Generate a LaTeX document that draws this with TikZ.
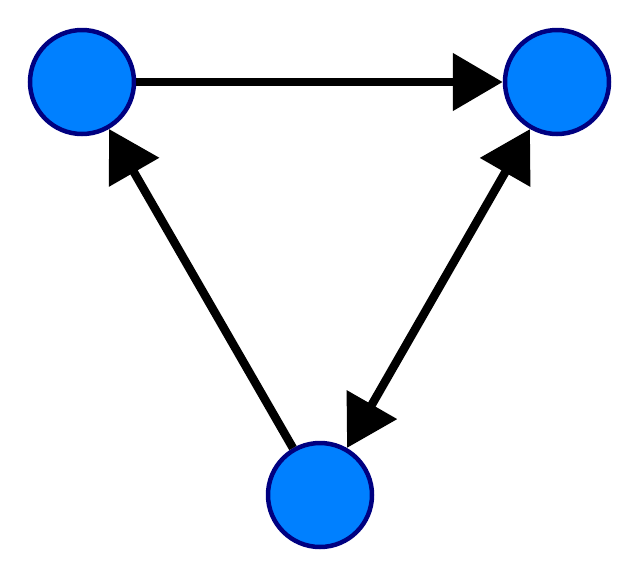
\documentclass[tikz,border=0pt]{standalone}
\usepackage{xcolor}
\usetikzlibrary{arrows.meta,positioning}
\definecolor{nodeblue}{HTML}{0080FF}
\definecolor{nodeedge}{HTML}{000080}
\tikzset{>={Triangle[length=50pt,width=56pt]}}

\begin{document}
\begin{tikzpicture}[
        x=1pt,
        y=-1pt,
        vertex/.style={
            circle,
            draw=nodeedge,
            fill=nodeblue,
            line width=4.5pt,
            minimum size=104pt,
            inner sep=0pt,
          },
        edge/.style={
            line width=8.5pt,
            black,
          },
      ]
      \useasboundingbox (0,0) rectangle (640,579);
      \node [
        vertex
      ] (left) at (82,82) {};
      \node [
        vertex
      ] (right) at (557,82) {};
      \node [
        vertex
      ] (bottom) at (320,495) {};

      \draw[edge,->] (left) -- (right);
      \draw[edge,->] (bottom) -- (left);
      \draw[edge,<->] (bottom) -- (right);
    \end{tikzpicture}
\end{document}
